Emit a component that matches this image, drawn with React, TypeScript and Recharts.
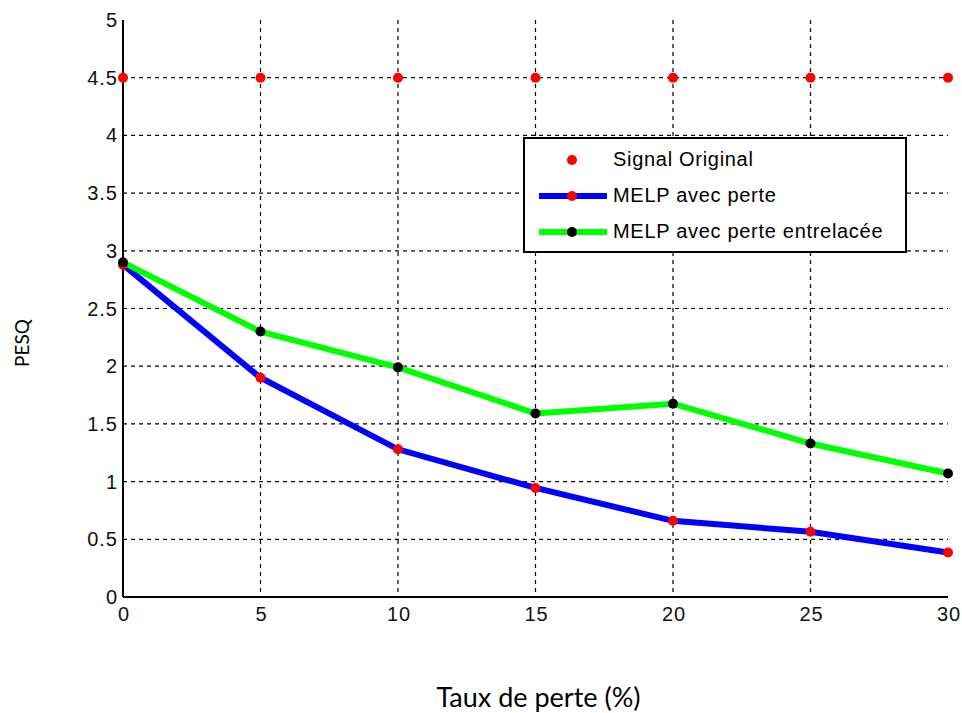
import React from 'react';
import { LineChart, Line, XAxis, YAxis, CartesianGrid } from 'recharts';

const lossRates = [0, 5, 10, 15, 20, 25, 30];
const signalOriginal = [4.5, 4.5, 4.5, 4.5, 4.5, 4.5, 4.5];
const melpAvecPerte = [2.88, 1.9, 1.28, 0.945, 0.66, 0.565, 0.385];
const melpEntrelacee = [2.9, 2.3, 1.99, 1.59, 1.675, 1.33, 1.07];
const xTicks = [0, 5, 10, 15, 20, 25, 30];
const yTicks = [0, 0.5, 1, 1.5, 2, 2.5, 3, 3.5, 4, 4.5, 5];
const seriesNames = ['Signal Original', 'MELP avec perte', 'MELP avec perte entrelacée'];

const data = lossRates.map((x, i) => ({
  x,
  orig: signalOriginal[i],
  melp: melpAvecPerte[i],
  entr: melpEntrelacee[i],
}));

const FONT = 'Liberation Sans, Arial, sans-serif';
const tickStyle = { fontFamily: FONT, fontSize: '20px', fill: '#111', letterSpacing: '1px' };

const XTick = (props: any) => {
  const { x, y, payload } = props;
  return (
    <text x={x + 1} y={y + 16} textAnchor="middle" style={tickStyle}>
      {payload.value}
    </text>
  );
};

const YTick = (props: any) => {
  const { x, y, payload } = props;
  return (
    <text x={x + 3} y={y + 7} textAnchor="end" style={tickStyle}>
      {payload.value}
    </text>
  );
};

const LegendBox = () => (
  <div
    style={{
      position: 'absolute',
      left: 523,
      top: 137,
      width: 384,
      height: 116,
      border: '2px solid #000',
      background: '#fff',
      boxSizing: 'border-box',
      fontFamily: FONT,
      fontSize: 20,
      letterSpacing: '0.7px',
      color: '#000',
    }}
  >
    {[0, 1, 2].map((i) => (
      <div key={i} style={{ position: 'absolute', left: 0, top: 9 + i * 36, height: 24, width: 380 }}>
        <svg width={80} height={24} style={{ position: 'absolute', left: 12, top: 0 }}>
          {i === 1 && <line x1={2} y1={12} x2={70} y2={12} stroke="#0000ff" strokeWidth={6} />}
          {i === 2 && <line x1={2} y1={12} x2={70} y2={12} stroke="#00ff00" strokeWidth={6} />}
          <circle cx={35} cy={12} r={5} fill={i === 2 ? '#000' : '#ff0000'} />
        </svg>
        <span style={{ position: 'absolute', left: 88, top: 0, lineHeight: '23px', whiteSpace: 'nowrap' }}>
          {seriesNames[i]}
        </span>
      </div>
    ))}
  </div>
);

export default function App() {
  return (
    <div style={{ position: 'absolute', left: 0, top: 0, width: 962, height: 713, background: '#fff' }}>
      <LineChart width={962} height={713} data={data} margin={{ top: 20, right: 14, bottom: 86, left: 0 }}>
        <CartesianGrid
          stroke="#000"
          strokeDasharray="4 4"
          strokeWidth={1.2}
          horizontalValues={[0.5, 1, 1.5, 2, 2.5, 3, 3.5, 4, 4.5]}
          verticalValues={[5, 10, 15, 20, 25]}
        />
        <XAxis
          dataKey="x"
          type="number"
          domain={[0, 30]}
          ticks={xTicks}
          height={30}
          axisLine={{ stroke: '#000', strokeWidth: 2 }}
          tickLine={false}
          tick={<XTick />}
        />
        <XAxis
          xAxisId="t"
          orientation="top"
          dataKey="x"
          type="number"
          domain={[0, 30]}
          ticks={xTicks}
          height={0}
          axisLine={{ stroke: '#000', strokeWidth: 2 }}
          tickLine={false}
          tick={false}
        />
        <YAxis
          domain={[0, 5]}
          ticks={yTicks}
          width={123}
          axisLine={{ stroke: '#000', strokeWidth: 2 }}
          tickLine={false}
          tick={<YTick />}
          interval={0}
        />
        <YAxis
          yAxisId="r"
          orientation="right"
          domain={[0, 5]}
          ticks={yTicks}
          width={0}
          axisLine={{ stroke: '#000', strokeWidth: 2 }}
          tickLine={false}
          tick={false}
        />
        <Line
          dataKey="orig"
          name={seriesNames[0]}
          stroke="none"
          strokeWidth={0}
          dot={{ r: 5, fill: '#ff0000', stroke: 'none' }}
          isAnimationActive={false}
        />
        <Line
          dataKey="melp"
          name={seriesNames[1]}
          stroke="#0000ff"
          strokeWidth={6}
          dot={{ r: 5, fill: '#ff0000', stroke: 'none' }}
          isAnimationActive={false}
        />
        <Line
          dataKey="entr"
          name={seriesNames[2]}
          stroke="#00ff00"
          strokeWidth={6}
          dot={{ r: 5, fill: '#000', stroke: 'none' }}
          isAnimationActive={false}
        />
      </LineChart>
      <LegendBox />
      <div
        style={{
          position: 'absolute',
          left: 0,
          width: 1077,
          top: 681,
          textAlign: 'center',
          fontFamily: 'Lato, "Open Sans", sans-serif',
          fontSize: 27,
          lineHeight: '32px',
          color: '#000',
        }}
      >
        Taux de perte (%)
      </div>
      <div
        style={{
          position: 'absolute',
          left: 21,
          top: 343,
          transform: 'translate(-50%, -50%) rotate(-90deg)',
          fontFamily: 'Lato, "Open Sans", sans-serif',
          fontSize: 19,
          color: '#000',
          whiteSpace: 'nowrap',
        }}
      >
        PESQ
      </div>
    </div>
  );
}
